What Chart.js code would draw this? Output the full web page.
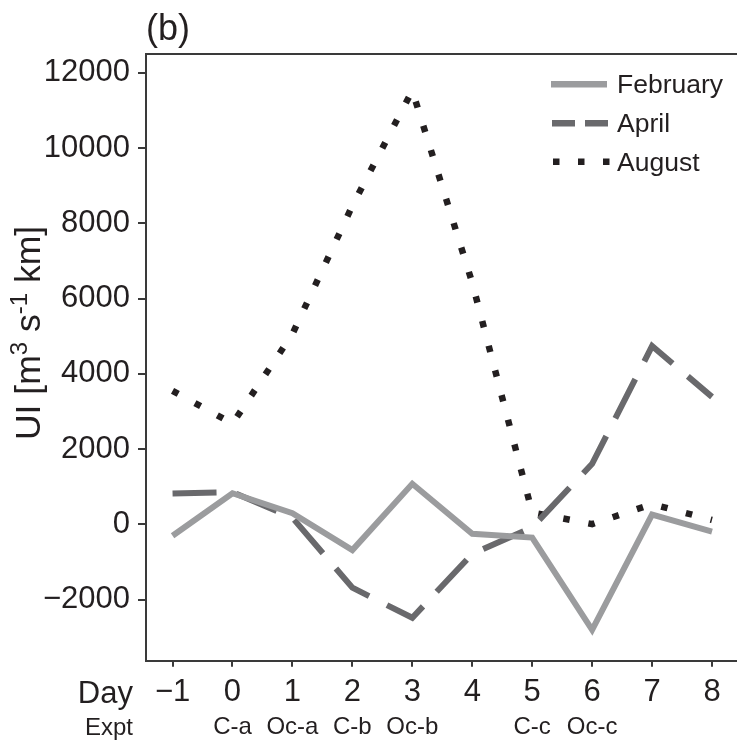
<!DOCTYPE html>
<html>
<head>
<meta charset="utf-8">
<script src="https://cdn.jsdelivr.net/npm/chart.js@4.4.1/dist/chart.umd.min.js"></script>
<style>
  html, body { margin: 0; padding: 0; background: #ffffff; overflow: hidden; }
  #wrap { width: 737px; height: 747px; }
</style>
</head>
<body>
<div id="wrap"><canvas id="c" width="737" height="747"></canvas></div>
<script>
// ---- data ----
const days = [-1, 0, 1, 2, 3, 4, 5, 6, 7, 8];
const exptLabels = ['', 'C-a', 'Oc-a', 'C-b', 'Oc-b', '', 'C-c', 'Oc-c', '', ''];
const february = [-300, 830, 300, -680, 1080, -250, -350, -2800, 260, -190];
const april    = [820, 860, 180, -1680, -2480, -780, -80, 1610, 4740, 3390];
const august   = [3550, 2680, 5060, 8470, 11530, 6420, 320, 10, 540, 120];
const yTicks = [-2000, 0, 2000, 4000, 6000, 8000, 10000, 12000];
const seriesNames = ['February', 'April', 'August'];

// ---- styles ----
const FONT = '"Liberation Sans", Arial, Helvetica, sans-serif';
const TEXT = '#231f20';
const AXIS = '#3a3a3a';
const C_FEB = '#9b9c9e';
const C_APR = '#69696c';
const C_AUG = '#231f20';
const X_MIN = -1.443, X_MAX = 8.417;
const Y_MIN = -3620, Y_MAX = 12500;

Chart.defaults.font.family = FONT;
Chart.defaults.color = TEXT;

const fmt = v => (v < 0 ? '\u2212' + Math.abs(v) : String(v));
const pts = arr => days.map((d, i) => ({ x: d, y: arr[i] }));

const extras = {
  id: 'extras',
  afterDraw(chart) {
    const ctx = chart.ctx;
    const ca = chart.chartArea;
    ctx.save();
    ctx.fillStyle = TEXT;
    // Day / Expt row labels
    ctx.textAlign = 'right';
    ctx.textBaseline = 'alphabetic';
    ctx.font = '31px ' + FONT;
    ctx.fillText('Day', ca.left - 13, 703);
    ctx.font = '24px ' + FONT;
    ctx.fillText('Expt', ca.left - 13, 735);

    // Y-axis title with superscripts
    const parts = [
      ['UI [m', 35.5, 0], ['3', 24, 13.5], [' s', 35.5, 0], ['-1', 24, 13.5], [' km]', 35.5, 0]
    ];
    let total = 0;
    parts.forEach(p => { ctx.font = p[1] + 'px ' + FONT; total += ctx.measureText(p[0]).width; });
    ctx.save();
    ctx.translate(40, 333 + total / 2);
    ctx.rotate(-Math.PI / 2);
    ctx.textAlign = 'left';
    let xx = 0;
    parts.forEach(p => {
      ctx.font = p[1] + 'px ' + FONT;
      ctx.fillText(p[0], xx, -p[2]);
      xx += ctx.measureText(p[0]).width;
    });
    ctx.restore();

    // Legend
    const rows = [84.3, 123.3, 161.7];
    const styles = [
      { color: C_FEB, dash: [] , x0: 551, x1: 607 },
      { color: C_APR, dash: [23, 10], x0: 552, x1: 608 },
      { color: C_AUG, dash: [6.5, 18.5], x0: 553, x1: 610 }
    ];
    styles.forEach((s, i) => {
      ctx.beginPath();
      ctx.setLineDash(s.dash);
      ctx.lineCap = 'butt';
      ctx.lineWidth = 6.5;
      ctx.strokeStyle = s.color;
      ctx.moveTo(s.x0, rows[i]);
      ctx.lineTo(s.x1, rows[i]);
      ctx.stroke();
    });
    ctx.setLineDash([]);
    ctx.font = '26.5px ' + FONT;
    ctx.textAlign = 'left';
    ctx.textBaseline = 'middle';
    ctx.fillStyle = TEXT;
    seriesNames.forEach((n, i) => ctx.fillText(n, 617, rows[i] + 1.5));
    ctx.restore();
  }
};

new Chart(document.getElementById('c'), {
  type: 'line',
  data: {
    datasets: [
      { label: seriesNames[0], data: pts(february), borderColor: C_FEB, borderWidth: 6,
        borderJoinStyle: 'miter', borderCapStyle: 'butt', pointRadius: 0, tension: 0, fill: false },
      { label: seriesNames[1], data: pts(april), borderColor: C_APR, borderWidth: 6,
        borderDash: [44, 20], borderJoinStyle: 'miter', borderCapStyle: 'butt', pointRadius: 0, tension: 0, fill: false },
      { label: seriesNames[2], data: pts(august), borderColor: C_AUG, borderWidth: 6.5,
        borderDash: [6.5, 19], borderJoinStyle: 'miter', borderCapStyle: 'butt', pointRadius: 0, tension: 0, fill: false }
    ]
  },
  options: {
    responsive: false,
    devicePixelRatio: 1,
    animation: false,
    layout: { padding: 0 },
    plugins: { legend: { display: false }, tooltip: { enabled: false } },
    scales: {
      x: {
        type: 'linear', position: 'bottom', min: X_MIN, max: X_MAX,
        afterBuildTicks: s => { s.ticks = days.map(v => ({ value: v })); },
        afterFit: s => { s.height = 50; },
        grid: { drawOnChartArea: false, drawTicks: true, tickLength: 6, color: AXIS, lineWidth: 2 },
        border: { display: true, color: AXIS, width: 2 },
        ticks: { font: { size: 31 }, color: TEXT, padding: 7, maxRotation: 0, autoSkip: false,
                 callback: v => fmt(v) }
      },
      xe: {
        type: 'linear', position: 'bottom', weight: 1, min: X_MIN, max: X_MAX,
        afterBuildTicks: s => { s.ticks = days.map(v => ({ value: v })); },
        afterFit: s => { s.height = 36.3; },
        grid: { display: false, drawTicks: false },
        border: { display: false },
        ticks: { font: { size: 24 }, color: TEXT, padding: 2, maxRotation: 0, autoSkip: false,
                 callback: v => exptLabels[days.indexOf(v)] || '' }
      },
      xt: {
        type: 'linear', position: 'top', min: X_MIN, max: X_MAX,
        afterFit: s => { s.height = 54; },
        grid: { display: false },
        border: { display: true, color: AXIS, width: 2 },
        ticks: { display: false },
        title: { display: true, text: '(b)', align: 'start', color: TEXT,
                 font: { size: 36 }, padding: { top: 8, bottom: 0 } }
      },
      y: {
        type: 'linear', position: 'left', min: Y_MIN, max: Y_MAX,
        afterBuildTicks: s => { s.ticks = yTicks.map(v => ({ value: v })); },
        afterFit: s => { s.width = 146; },
        grid: { drawOnChartArea: false, drawTicks: true, tickLength: 8, color: AXIS, lineWidth: 2 },
        border: { display: true, color: AXIS, width: 2 },
        ticks: { font: { size: 31 }, color: TEXT, padding: 8, callback: v => fmt(v) }
      }
    }
  },
  plugins: [extras]
});
</script>
</body>
</html>
